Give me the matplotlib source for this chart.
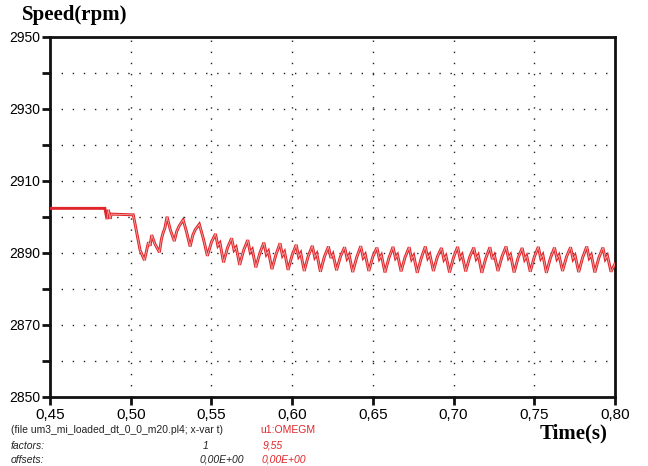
import numpy as np
import matplotlib
matplotlib.use("Agg")
import matplotlib.pyplot as plt
from matplotlib.ticker import MultipleLocator, FixedLocator, FuncFormatter

# ---------------- data ----------------
# initial (pre-disturbance) part, time in s, speed in rpm
t_start = [0.450, 0.4840, 0.4853, 0.4862, 0.4872, 0.4880, 0.5016, 0.5058, 0.5085]
v_start = [2902.4, 2902.4, 2899.4, 2902.0, 2899.5, 2900.8, 2900.6, 2890.8, 2888.0]

# transient cycles (explicit points)
t_trans = [0.5110, 0.5120, 0.5130, 0.5150, 0.5178, 0.5190, 0.5200, 0.5212, 0.5225,
           0.5245, 0.5270, 0.5285, 0.5300, 0.5325, 0.5345, 0.5368, 0.5385,
           0.5400, 0.5425, 0.5450]
v_trans = [2893.0, 2892.0, 2895.0, 2892.5, 2890.2, 2893.8, 2895.5, 2897.0, 2900.1,
           2896.5, 2893.3, 2896.0, 2897.5, 2899.2, 2896.0, 2891.8, 2895.0,
           2896.5, 2898.0, 2894.0]

# oscillation cycles: peak time and values of trough (before peak), rise, peak,
# shoulder and small bump after the peak
peak_t = [0.5525, 0.5625, 0.5725, 0.5825, 0.5925, 0.6025, 0.6125, 0.6225,
          0.6325, 0.6425, 0.6525, 0.6625, 0.6725, 0.6825, 0.6925, 0.7025,
          0.7125, 0.7225, 0.7325, 0.7425, 0.7525, 0.7625, 0.7725, 0.7825, 0.7925]
trough_v = [2889.2, 2887.4, 2886.7, 2886.0, 2885.5, 2885.3, 2885.0, 2884.8,
            2885.2, 2884.7, 2885.0, 2884.6, 2884.9, 2884.5, 2885.0, 2884.6,
            2884.9, 2884.5, 2885.0, 2884.6, 2884.8, 2884.5, 2885.0, 2884.7, 2884.6]
rise_v = [2893.0, 2891.5, 2890.8, 2890.0, 2889.6, 2889.4, 2889.2, 2889.0,
          2889.1, 2888.8, 2889.0, 2888.7, 2888.9, 2888.6, 2889.0, 2888.8,
          2888.9, 2888.6, 2889.0, 2888.7, 2888.9, 2888.6, 2889.0, 2888.8, 2888.7]
peak_v = [2895.3, 2894.1, 2893.6, 2892.9, 2892.7, 2892.3, 2892.0, 2891.8,
          2891.6, 2891.9, 2891.5, 2891.7, 2891.6, 2891.8, 2891.4, 2891.7,
          2891.5, 2891.6, 2891.8, 2891.4, 2891.7, 2891.5, 2891.6, 2891.8, 2891.5]
shoulder_v = [2892.0, 2890.8, 2890.2, 2889.6, 2889.3, 2889.0, 2888.8, 2888.6,
              2888.5, 2888.7, 2888.4, 2888.6, 2888.3, 2888.6, 2888.2, 2888.5,
              2888.4, 2888.3, 2888.6, 2888.2, 2888.5, 2888.4, 2888.3, 2888.6, 2888.3]
bump_v = [2892.8, 2891.6, 2891.0, 2890.5, 2890.3, 2890.0, 2889.8, 2889.7,
          2889.5, 2889.6, 2889.4, 2889.5, 2889.3, 2889.6, 2889.2, 2889.5,
          2889.4, 2889.4, 2889.5, 2889.2, 2889.5, 2889.4, 2889.3, 2889.5, 2889.3]
t_end = [0.7975, 0.8000]
v_end = [2884.8, 2887.0]

y_ticks = [2850, 2870, 2890, 2910, 2930, 2950]
x_ticks = [0.45, 0.50, 0.55, 0.60, 0.65, 0.70, 0.75, 0.80]

# ---------------- assemble series ----------------
t_osc, v_osc = [], []
for tp, a, b, c, d, e in zip(peak_t, trough_v, rise_v, peak_v, shoulder_v, bump_v):
    t_osc += [tp - 0.0050, tp - 0.0025, tp, tp + 0.0015, tp + 0.0028]
    v_osc += [a, b, c, d, e]
t_all = np.array(t_start + t_trans + t_osc + t_end)
v_all = np.array(v_start + v_trans + v_osc + v_end)

RED = "#e0262a"

fig = plt.figure(figsize=(6.48, 4.66), dpi=100)
ax = fig.add_axes([50/648, 1-397/466, (615-50)/648, (397-37)/466])

ax.plot(t_all, v_all, color=RED, lw=2.1, solid_joinstyle="miter", zorder=3)
mask = t_all >= 0.4845
ax.plot(t_all[mask], v_all[mask], color="white", lw=0.6, alpha=0.6, zorder=4)

ax.set_xlim(0.45, 0.80)
ax.set_ylim(2850, 2950)

ax.yaxis.set_major_locator(FixedLocator(y_ticks))
ax.yaxis.set_minor_locator(MultipleLocator(10))
ax.xaxis.set_major_locator(FixedLocator(x_ticks))
ax.xaxis.set_major_formatter(FuncFormatter(lambda v, p: f"{v:.2f}".replace(".", ",")))
ax.yaxis.set_major_formatter(FuncFormatter(lambda v, p: f"{v:.0f}"))

ax.tick_params(axis="both", which="both", direction="out", width=2, length=6, color="#111111")
ax.tick_params(axis="y", which="major", labelsize=10, pad=1)
ax.tick_params(axis="x", which="major", labelsize=11, pad=2)
for lab in ax.get_xticklabels() + ax.get_yticklabels():
    lab.set_fontfamily("Liberation Sans")

for s in ax.spines.values():
    s.set_linewidth(2)
    s.set_color("#111111")

# dotted grid
gstyle = dict(color="#222222", lw=1.0, linestyle=(0, (1, 7)), zorder=1)
for yv in range(2860, 2950, 10):
    ax.axhline(yv, **gstyle)
for xv in x_ticks[1:-1]:
    ax.axvline(xv, **gstyle)

# titles
fig.text(22/648, 1-15/466, "Speed(rpm)", fontfamily="Liberation Serif", fontweight="bold",
         fontsize=15, va="center", ha="left")
fig.text(607/648, 1-433/466, "Time(s)", fontfamily="Liberation Serif", fontweight="bold",
         fontsize=15, va="center", ha="right")

# footer
fs = 7.5
fig.text(11/648, 1-430/466, "(file um3_mi_loaded_dt_0_0_m20.pl4; x-var t)", fontsize=fs,
         fontfamily="Liberation Sans", va="center", color="#222222")
fig.text(11/648, 1-446/466, "factors:", fontsize=fs, fontfamily="Liberation Sans",
         style="italic", va="center", color="#222222")
fig.text(11/648, 1-460/466, "offsets:", fontsize=fs, fontfamily="Liberation Sans",
         style="italic", va="center", color="#222222")
fig.text(203/648, 1-446/466, "1", fontsize=fs, fontfamily="Liberation Sans",
         style="italic", va="center", color="#222222")
fig.text(200/648, 1-460/466, "0,00E+00", fontsize=fs, fontfamily="Liberation Sans",
         style="italic", va="center", color="#222222")
fig.text(260/648, 1-430/466, "u1:OMEGM", fontsize=fs, fontfamily="Liberation Sans",
         va="center", color=RED)
fig.text(263/648, 1-446/466, "9,55", fontsize=fs, fontfamily="Liberation Sans",
         style="italic", va="center", color=RED)
fig.text(262/648, 1-460/466, "0,00E+00", fontsize=fs, fontfamily="Liberation Sans",
         style="italic", va="center", color=RED)

fig.savefig("out.png", dpi=100)
